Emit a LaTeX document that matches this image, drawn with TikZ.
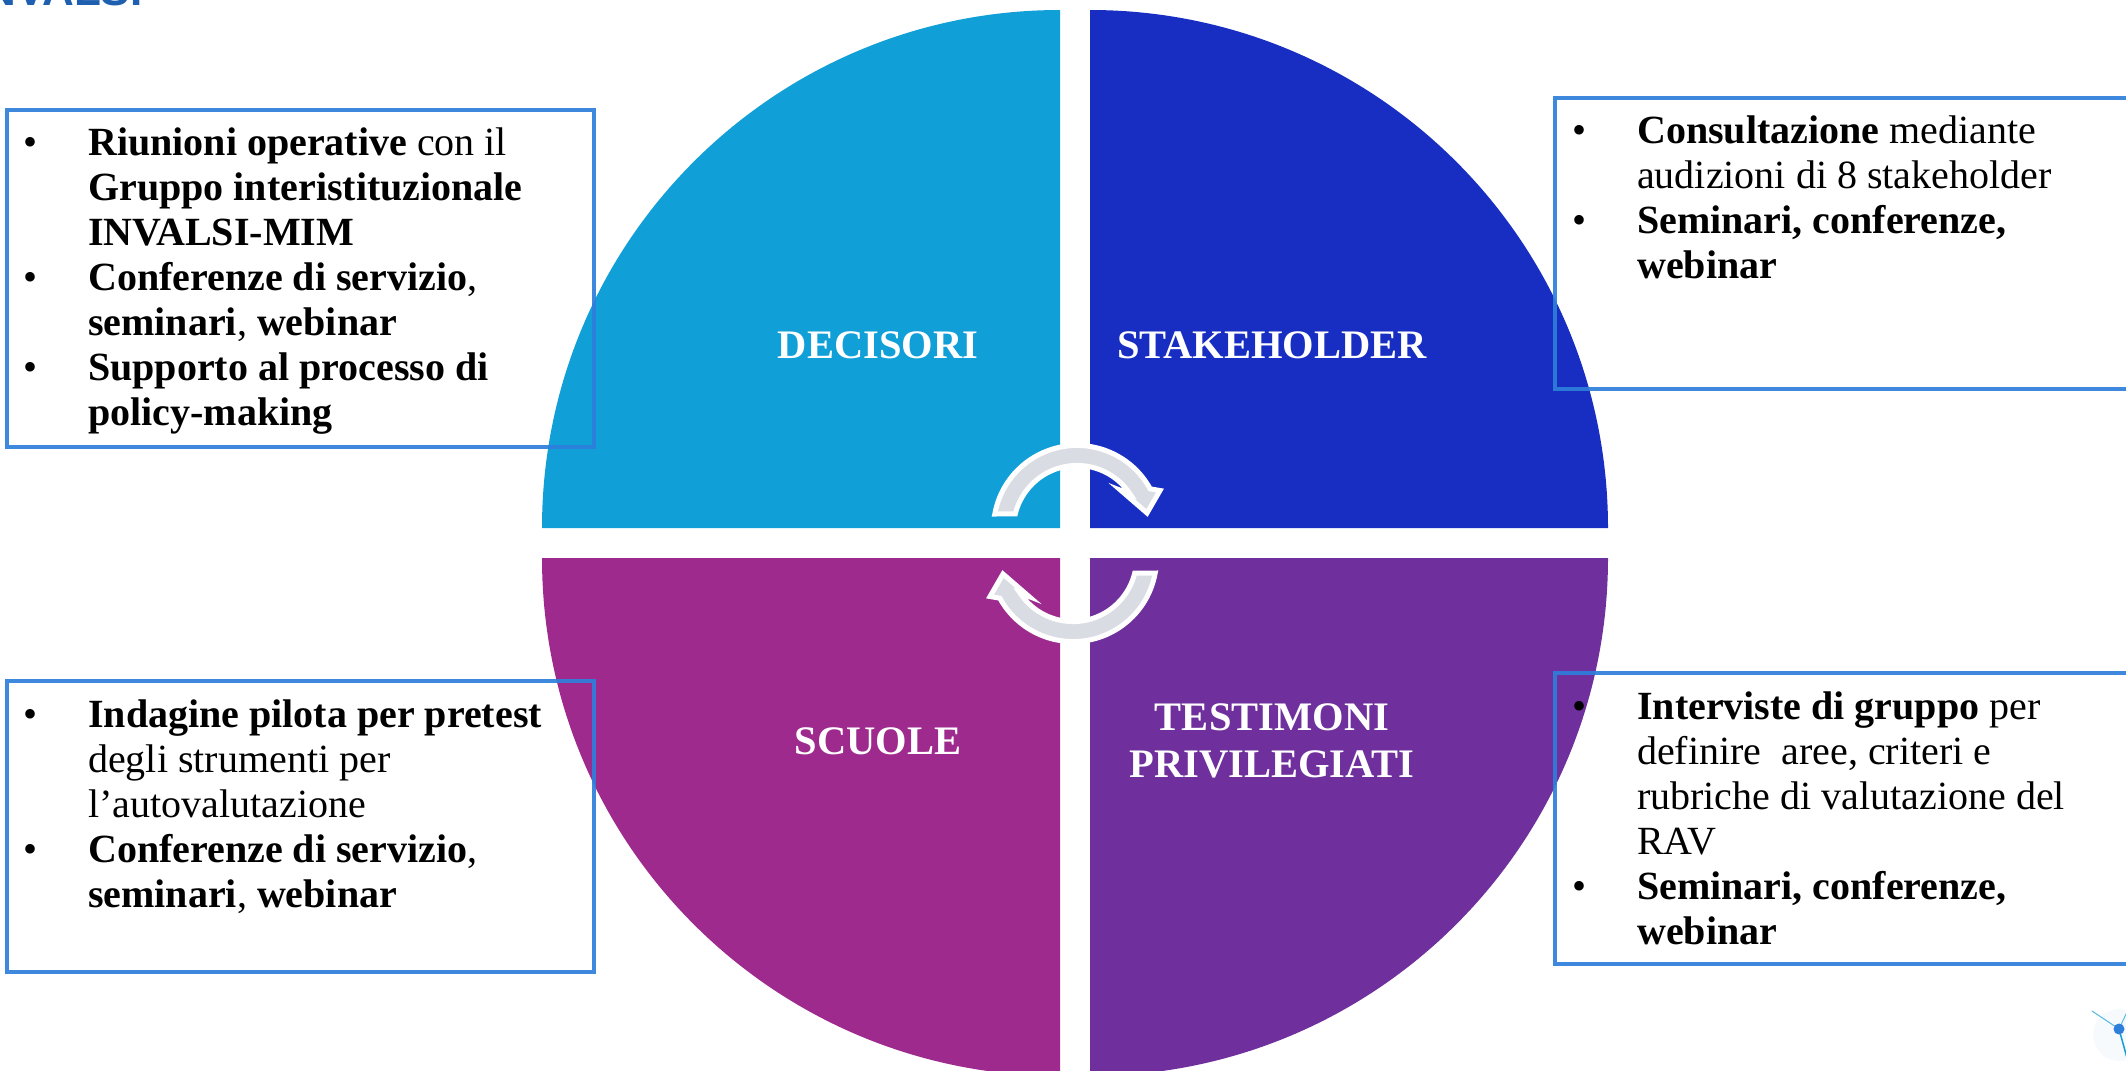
\documentclass[tikz,border=0pt]{standalone}
\usepackage{fontspec}
\setmainfont{Liberation Serif}
\newfontfamily\logofont{Liberation Sans}
\definecolor{cteal}{HTML}{109FD7}
\definecolor{cblue}{HTML}{182EC2}
\definecolor{cmag}{HTML}{9E2A8E}
\definecolor{cpur}{HTML}{6F2F9C}
\definecolor{cline}{HTML}{2E7FDB}
\definecolor{carrow}{HTML}{D9DCE3}
\definecolor{clogo}{HTML}{1F5FAF}
\newcommand{\bul}{\leavevmode\llap{\makebox[65pt][l]{\normalfont•}}}
\newcommand{\listfont}{\fontsize{40}{45}\selectfont}
\newcommand{\quadfont}{\fontsize{40.5}{47}\selectfont\bfseries}
\tikzset{
  listbox/.style={draw=cline,line width=3.5pt,draw opacity=.92,fill=none},
  listtext/.style={anchor=north west,inner sep=0pt,align=left,font=\listfont,text=black},
  quadlabel/.style={text=white,font=\quadfont,align=center,inner sep=0pt},
  cyclearrow/.style={fill=carrow,draw=white,line width=5pt,miter limit=10},
}
\newcommand{\arrowpath}{
  (994.8,514) arc[start angle=190.3,end angle=331.3,radius=83.5]
  -- (1160,490.5) -- (1147,513) -- (1121,490.5) -- (1130,494)
  arc[start angle=326.6,end angle=193.7,radius=63.5] -- cycle
}
\begin{document}
\begin{tikzpicture}[x=1pt,y=-1pt]
\useasboundingbox (0,0) rectangle (2126,1071);
\clip (0,0) rectangle (2126,1071);
% quadrants
\fill[cteal] (1060,528) -- (542,528) arc[start angle=180,end angle=270,radius=518] -- cycle;
\fill[cblue] (1090,528) -- (1090,10) arc[start angle=270,end angle=360,radius=518] -- cycle;
\fill[cmag] (1060,558) -- (1060,1076) arc[start angle=90,end angle=180,radius=518] -- cycle;
\fill[cpur] (1090,558) -- (1608,558) arc[start angle=0,end angle=90,radius=518] -- cycle;
% cycle arrows
\draw[cyclearrow] \arrowpath;
\begin{scope}[rotate around={180:(1075,543.5)}]
\draw[cyclearrow] \arrowpath;
\end{scope}
% quadrant labels
\node[quadlabel] (decisori) at (878,345) {DECISORI};
\node[quadlabel] (stake) at (1272,345) {STAKEHOLDER};
\node[quadlabel] (scuole) at (878,741) {SCUOLE};
\node[quadlabel] (testimoni) at (1272,741) {TESTIMONI\\PRIVILEGIATI};
% frames
\draw[listbox] (7,110) rectangle (594,447);
\draw[listbox] (1555,98) rectangle (2135,389);
\draw[listbox] (7,681) rectangle (594,972);
\draw[listbox] (1555,673) rectangle (2135,964);
% lists
\node[listtext] (l1) at (88,128) {\bul\textbf{Riunioni operative} con il\\
  \textbf{Gruppo interistituzionale}\\
  \textbf{INVALSI-MIM}\\
  \bul\textbf{Conferenze di servizio},\\
  \textbf{seminari}, \textbf{webinar}\\
  \bul\textbf{Supporto al processo di}\\
  \textbf{policy-making}};
\node[listtext] (l2) at (1637,116) {\bul\textbf{Consultazione} mediante\\
  audizioni di 8 stakeholder\\
  \bul\textbf{Seminari, conferenze,}\\
  \textbf{webinar}};
\node[listtext] (l3) at (88,700) {\bul\textbf{Indagine pilota per pretest}\\
  degli strumenti per\\
  l’autovalutazione\\
  \bul\textbf{Conferenze di servizio},\\
  \textbf{seminari}, \textbf{webinar}};
\node[listtext] (l4) at (1637,692) {\bul\textbf{Interviste di gruppo} per\\
  definire\ \ aree, criteri e\\
  rubriche di valutazione del\\
  RAV\\
  \bul\textbf{Seminari, conferenze,}\\
  \textbf{webinar}};
% logo remnant
\node[anchor=base west,inner sep=0pt,text=clogo,font=\logofont\bfseries\fontsize{44}{44}\selectfont] (logo) at (-28,5) {INVALSI};
% molecule remnant
\fill[cline!4] (2119,1035) circle (26);
\draw[cteal!70,line width=1pt,line cap=round] (2092,1011) -- (2119,1029) -- (2127,1012);
\draw[cteal,line width=1.5pt] (2119,1029) -- (2127,1058);
\fill[cline] (2119,1029) circle (5.5);
\end{tikzpicture}
\end{document}
